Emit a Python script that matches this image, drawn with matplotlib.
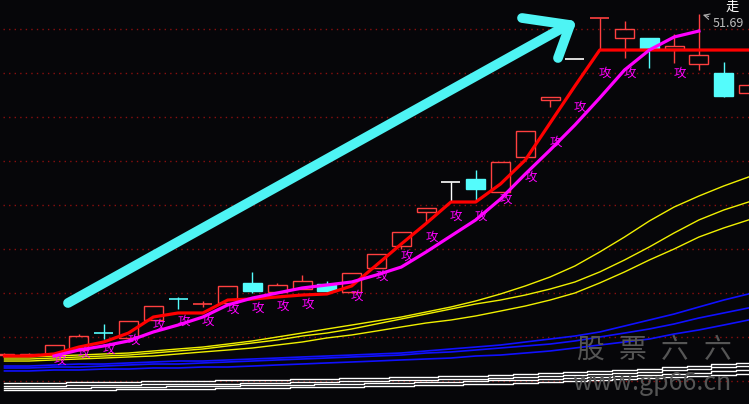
import numpy as np
import matplotlib
matplotlib.use("Agg")
import matplotlib.pyplot as plt
from matplotlib.patches import Rectangle

plt.rcParams['font.family'] = ['Noto Sans CJK SC', 'DejaVu Sans']

# daily bars
opens  = [12.95, 12.90, 12.95, 13.50, 15.45, 14.90, 16.95, 19.30, 18.75, 18.85,
          21.15, 20.10, 20.50, 21.00, 20.10, 22.85, 25.35, 29.20, 32.60, 32.95,
          31.50, 35.45, 41.95, 46.60, 51.25, 49.00, 49.00, 47.75, 46.00, 45.00, 42.75]
highs  = [13.20, 13.15, 14.10, 15.35, 16.50, 16.80, 18.50, 19.55, 19.10, 20.80,
          22.40, 21.15, 22.05, 21.35, 22.30, 24.45, 26.95, 29.70, 32.60, 34.00,
          34.90, 38.40, 42.30, 46.60, 51.25, 50.90, 49.00, 49.45, 51.69, 46.25, 43.70]
lows   = [12.90, 12.85, 12.90, 13.40, 14.75, 14.80, 16.90, 18.20, 18.40, 18.80,
          20.00, 20.05, 20.40, 20.15, 20.00, 22.80, 25.00, 27.95, 30.35, 30.45,
          31.45, 35.40, 41.15, 46.60, 47.60, 46.70, 45.55, 46.15, 45.35, 42.25, 42.70]
closes = [13.10, 13.10, 14.10, 15.10, 15.45, 16.80, 18.50, 19.30, 18.75, 20.80,
          20.20, 20.90, 21.35, 20.20, 22.25, 24.40, 26.95, 29.65, 32.60, 31.80,
          34.90, 38.40, 42.25, 46.60, 51.25, 50.00, 47.75, 48.05, 47.05, 42.40, 43.65]

# trailing stop (red) and fast average (magenta)
stop_line = [12.84, 12.84, 13.07, 13.86, 14.43, 15.45, 17.27, 17.73, 17.73, 19.20,
             19.32, 19.55, 19.77, 19.89, 20.80, 23.18, 25.57, 27.90, 30.34, 30.34,
             32.39, 35.11, 39.32, 43.52, 47.61, 47.61, 47.61, 47.61, 47.61, 47.61, 47.61]
fast_ma = [np.nan, np.nan, 12.84, 13.52, 13.98, 14.55, 15.57, 16.36, 17.27, 18.64,
           19.43, 20.00, 20.57, 20.91, 21.25, 22.05, 22.95, 24.66, 26.48, 28.30,
           30.68, 33.52, 36.25, 39.09, 42.16, 45.34, 47.61, 49.09, 49.77, np.nan, np.nan]

yellow1 = [12.73, 12.73, 12.84, 12.95, 13.07, 13.18, 13.41, 13.64, 13.86, 14.20,
           14.55, 15.00, 15.45, 15.91, 16.36, 16.82, 17.27, 17.84, 18.41, 19.09,
           19.89, 20.80, 21.82, 23.07, 24.66, 26.36, 28.18, 29.77, 31.02, 32.16, 33.18]
yellow2 = [12.50, 12.50, 12.61, 12.73, 12.84, 12.95, 13.18, 13.41, 13.64, 13.98,
           14.32, 14.66, 15.11, 15.45, 15.91, 16.48, 17.05, 17.61, 18.18, 18.75,
           19.20, 19.77, 20.45, 21.25, 22.39, 23.75, 25.23, 26.82, 28.30, 29.43, 30.34]
yellow3 = [12.27, 12.27, 12.39, 12.50, 12.61, 12.73, 12.84, 13.07, 13.30, 13.52,
           13.75, 14.09, 14.43, 14.89, 15.23, 15.68, 16.14, 16.59, 16.93, 17.39,
           17.95, 18.52, 19.20, 20.00, 21.14, 22.39, 23.75, 25.00, 26.36, 27.39, 28.30]
blue1 = [11.70, 11.70, 11.82, 11.93, 11.93, 12.05, 12.16, 12.27, 12.27, 12.39,
         12.50, 12.61, 12.73, 12.84, 12.95, 13.07, 13.18, 13.41, 13.64, 13.86,
         14.09, 14.43, 14.77, 15.11, 15.57, 16.25, 16.93, 17.61, 18.41, 19.20, 19.89]
blue2 = [11.48, 11.48, 11.59, 11.59, 11.70, 11.82, 11.93, 11.93, 12.05, 12.16,
         12.27, 12.39, 12.50, 12.61, 12.73, 12.84, 12.95, 13.18, 13.30, 13.52,
         13.75, 13.98, 14.20, 14.55, 15.00, 15.45, 15.91, 16.48, 17.16, 17.73, 18.30]
blue3 = [11.14, 11.14, 11.25, 11.25, 11.36, 11.36, 11.48, 11.48, 11.59, 11.59,
         11.70, 11.82, 11.93, 12.05, 12.16, 12.27, 12.39, 12.50, 12.61, 12.84,
         12.95, 13.18, 13.41, 13.75, 14.09, 14.43, 14.77, 15.34, 15.80, 16.36, 16.93]
white1 = [9.77, 9.77, 9.77, 9.89, 9.89, 9.89, 10.00, 10.00, 10.00, 10.11,
          10.11, 10.11, 10.23, 10.23, 10.34, 10.34, 10.45, 10.45, 10.57, 10.57,
          10.68, 10.80, 10.91, 11.02, 11.14, 11.25, 11.36, 11.59, 11.70, 11.93, 12.05]
white2 = [9.43, 9.43, 9.43, 9.55, 9.55, 9.55, 9.66, 9.66, 9.66, 9.66,
          9.77, 9.77, 9.89, 9.89, 10.00, 10.00, 10.11, 10.11, 10.23, 10.23,
          10.34, 10.45, 10.57, 10.68, 10.80, 10.91, 11.02, 11.25, 11.36, 11.59, 11.70]
white3 = [9.20, 9.20, 9.20, 9.20, 9.32, 9.32, 9.32, 9.43, 9.43, 9.43,
          9.55, 9.55, 9.55, 9.66, 9.66, 9.77, 9.77, 9.89, 9.89, 10.00,
          10.11, 10.11, 10.23, 10.34, 10.45, 10.57, 10.68, 10.80, 10.91, 11.14, 11.25]
white4 = [8.98, 8.98, 8.98, 8.98, 8.98, 9.09, 9.09, 9.09, 9.09, 9.20,
          9.20, 9.20, 9.32, 9.32, 9.32, 9.43, 9.43, 9.55, 9.55, 9.66,
          9.66, 9.77, 9.89, 10.00, 10.11, 10.23, 10.34, 10.45, 10.57, 10.68, 10.80]

attack_days = [2, 3, 4, 5, 6, 7, 8, 9, 10, 11, 12, 14, 15, 16, 17, 18, 19, 20,
               21, 22, 23, 24, 25, 27]
grid_levels = [10, 15, 20, 25, 30, 35, 40, 45, 50]
top_high = 51.69

BG = '#060609'
UP = '#ff4040'
DOWN = '#54fcfc'
doji_color = {4: DOWN, 7: DOWN, 8: UP, 18: 'white', 23: 'white', 24: UP}

fig = plt.figure(figsize=(7.49, 4.04), dpi=100, facecolor=BG)
ax = fig.add_axes([0, 0, 1, 1])
ax.set_facecolor(BG)
ax.set_xlim(-0.181, 30.02)
ax.set_ylim(7.386, 53.295)
ax.axis('off')

for g in grid_levels:
    ax.axhline(g, xmin=0.004, color='#8a0f0f', lw=1, ls=(0, (1, 3)), zorder=1)

w = 0.77
for i in range(len(opens)):
    o, h, l, c = opens[i], highs[i], lows[i], closes[i]
    if c > o:
        ax.add_patch(Rectangle((i - w / 2, o), w, c - o, fill=False,
                               edgecolor=UP, lw=1, zorder=2))
        ax.vlines(i, c, h, color=UP, lw=1, zorder=2)
        ax.vlines(i, l, o, color=UP, lw=1, zorder=2)
    elif c < o:
        ax.vlines(i, l, h, color=DOWN, lw=1, zorder=2)
        ax.add_patch(Rectangle((i - w / 2, c), w, o - c, facecolor=DOWN,
                               edgecolor=DOWN, lw=1, zorder=2))
    else:
        col = doji_color.get(i, UP)
        ax.hlines(o, i - w / 2, i + w / 2, color=col, lw=1.2, zorder=2)
        ax.vlines(i, l, h, color=col, lw=1, zorder=2)

x = np.arange(len(opens))
for s in (white1, white2, white3, white4):
    ax.plot(x, s, color='white', lw=1, drawstyle='steps-mid', zorder=3)
for s in (blue1, blue2, blue3):
    ax.plot(x, s, color='#1010ff', lw=1.2, zorder=3)
for s in (yellow1, yellow2, yellow3):
    ax.plot(x, s, color='#f0f000', lw=1, zorder=3)

ax.plot(x, stop_line, color='#ff0000', lw=2.3, zorder=4)
ax.plot(x, fast_ma, color='#ff00ff', lw=2.3, zorder=5)

for i in attack_days:
    ax.text(i + 0.22, stop_line[i] * 0.945, '攻', color='#ff00ff', fontsize=9,
            ha='center', va='center', zorder=6)

# top annotation
hi_i = int(np.argmax(highs))
ax.annotate('', xy=(hi_i + 0.05, top_high), xytext=(hi_i + 0.5, top_high - 0.35),
            arrowprops=dict(arrowstyle='->', color='#b0b0b0', lw=0.8), zorder=7)
ax.text(hi_i + 0.55, top_high - 1.07, f'{top_high:.2f}', color='#bcbcbc',
        fontsize=9, ha='left', va='center', zorder=7)
ax.text(hi_i + 1.35, top_high + 0.72, '走', color='white', fontsize=9.5,
        ha='center', va='center', zorder=7)

# big cyan arrow (drawn in axes fraction)
def px(xp, yp):
    return xp / 749, 1 - yp / 404

arrow_kw = dict(color='#4ef4f4', lw=7, solid_capstyle='round',
                transform=ax.transAxes, zorder=8)
for seg in [((68, 303), (566, 26)), ((522, 18), (570, 25)), ((570, 25), (558, 58))]:
    (x0, y0), (x1, y1) = px(*seg[0]), px(*seg[1])
    ax.plot([x0, x1], [y0, y1], **arrow_kw)

# watermark
for k, ch in enumerate('股票六六'):
    ax.text((590 + 42.5 * k) / 749, 1 - 350 / 404, ch, color='#555555',
            fontsize=20, ha='center', va='center', transform=ax.transAxes, zorder=9)
ax.text(652 / 749, 1 - 383 / 404, 'www.gp66.cn', color='#555555', fontsize=18,
        style='italic', ha='center', va='center', transform=ax.transAxes, zorder=9)

fig.savefig('out.png', dpi=100, facecolor=BG)
